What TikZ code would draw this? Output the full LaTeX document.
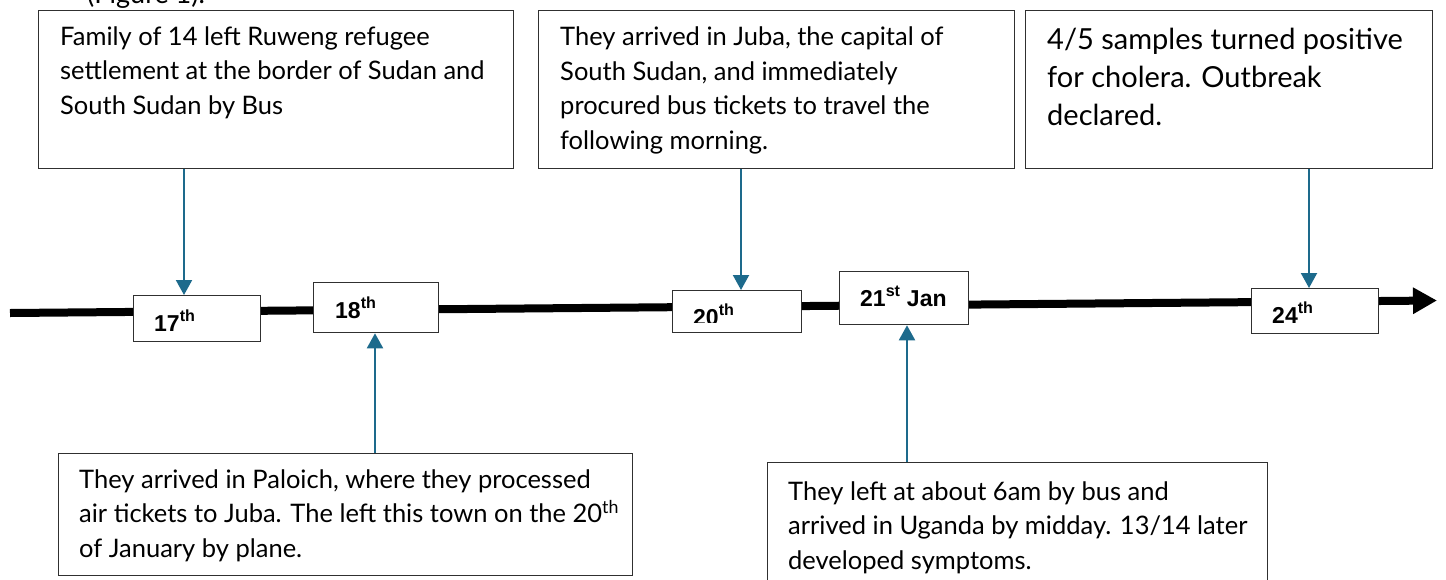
\documentclass[tikz,border=0pt]{standalone}
\usepackage{fontspec}
\setmainfont{Lato}
\newfontfamily\datefont{Liberation Sans}
\usetikzlibrary{arrows.meta}
\definecolor{teal1}{HTML}{1D6A8C}
\definecolor{boxline}{HTML}{303030}
\tikzset{
  x=1pt, y=-1pt,
  evbox/.style={draw=boxline, line width=1.3pt, fill=white, rectangle, inner sep=0pt},
  evtext/.style={anchor=base west, inner sep=0pt, align=left, font=\fontsize{25.5}{34.5}\selectfont},
  bigtext/.style={anchor=base west, inner sep=0pt, align=left, font=\fontsize{29}{38}\selectfont},
  datebox/.style={draw=boxline, line width=1.3pt, fill=white, rectangle, inner sep=0pt},
  datetext/.style={anchor=base west, inner sep=0pt, font=\datefont\bfseries\fontsize{23}{26}\selectfont},
  link/.style={draw=teal1, line width=2pt, -{Triangle[width=16pt,length=15pt]}},
  timeline/.style={draw=black, line width=8pt, -{Triangle[width=25pt,length=24pt]}}
}
\begin{document}
\begin{tikzpicture}
\useasboundingbox (0,0) rectangle (1446,579);
\fill[white] (0,0) rectangle (1446,579);
% partially hidden caption
\node[anchor=base west, inner sep=0pt, font=\fontsize{27}{30}\selectfont] (fig) at (87,3) {(Figure 1).};
% timeline
\coordinate (tl0) at (10,313);
\coordinate (tl1) at (1437,300.5);
\draw[timeline] (tl0) -- (tl1);
% event boxes (text nodes anchored at the baseline of their last line)
\node[evbox, minimum width=475, minimum height=158, anchor=north west] (b1) at (38,10) {};
\node[evtext] (t1) at (60,114) {Family of 14 left Ruweng refugee\\settlement at the border of Sudan and\\South Sudan by Bus};
\node[evbox, minimum width=476, minimum height=158, anchor=north west] (b2) at (538,10) {};
\node[evtext] (t2) at (560,149) {They arrived in Juba, the capital of\\South Sudan, and immediately\\procured bus tickets to travel the\\following morning.};
\node[evbox, minimum width=407, minimum height=158, anchor=north west] (b3) at (1025,10) {};
\node[bigtext] (t3) at (1047,125) {4/5 samples turned positive\\for cholera. Outbreak\\declared.};
\node[evbox, minimum width=574, minimum height=122, anchor=north west] (b4) at (58,453) {};
\node[evtext] (t4) at (79,557) {They arrived in Paloich, where they processed\\air tickets to Juba. The left this town on the 20\textsuperscript{th}\\of January by plane.};
\node[evbox, minimum width=500, minimum height=130, anchor=north west] (b5) at (767,462) {};
\node[evtext] (t5) at (788,569) {They left at about 6am by bus and\\arrived in Uganda by midday. 13/14 later\\developed symptoms.};
% date boxes
\node[datebox, minimum width=127, minimum height=46, anchor=north west] (d17) at (133,295) {};
\node[datetext] (l17) at (154,331) {17\textsuperscript{th}};
\node[datebox, minimum width=125, minimum height=50, anchor=north west] (d18) at (313,282) {};
\node[datetext] (l18) at (335,318) {18\textsuperscript{th}};
\node[datebox, minimum width=129, minimum height=42, anchor=north west] (d20) at (672,290) {};
\begin{scope}
\clip (672,290) rectangle (801,322);
\node[datetext] (l20) at (693,325) {20\textsuperscript{th}};
\end{scope}
\node[datebox, minimum width=129, minimum height=53, anchor=north west] (d21) at (839,271) {};
\node[datetext] (l21) at (860,306) {21\textsuperscript{st} Jan};
\node[datebox, minimum width=127, minimum height=45, anchor=north west] (d24) at (1251,288) {};
\node[datetext] (l24) at (1272,323) {24\textsuperscript{th}};
% connectors
\coordinate (s1) at (184,168);
\draw[link] (b1.south -| s1) -- (d17.north -| s1);
\coordinate (s2) at (741,168);
\draw[link] (b2.south -| s2) -- (d20.north -| s2);
\coordinate (s3) at (1309,168);
\draw[link] (b3.south -| s3) -- (d24.north -| s3);
\coordinate (s4) at (375,453);
\draw[link] (b4.north -| s4) -- (d18.south -| s4);
\coordinate (s5) at (907,462);
\draw[link] (b5.north -| s5) -- (d21.south -| s5);
\end{tikzpicture}
\end{document}
